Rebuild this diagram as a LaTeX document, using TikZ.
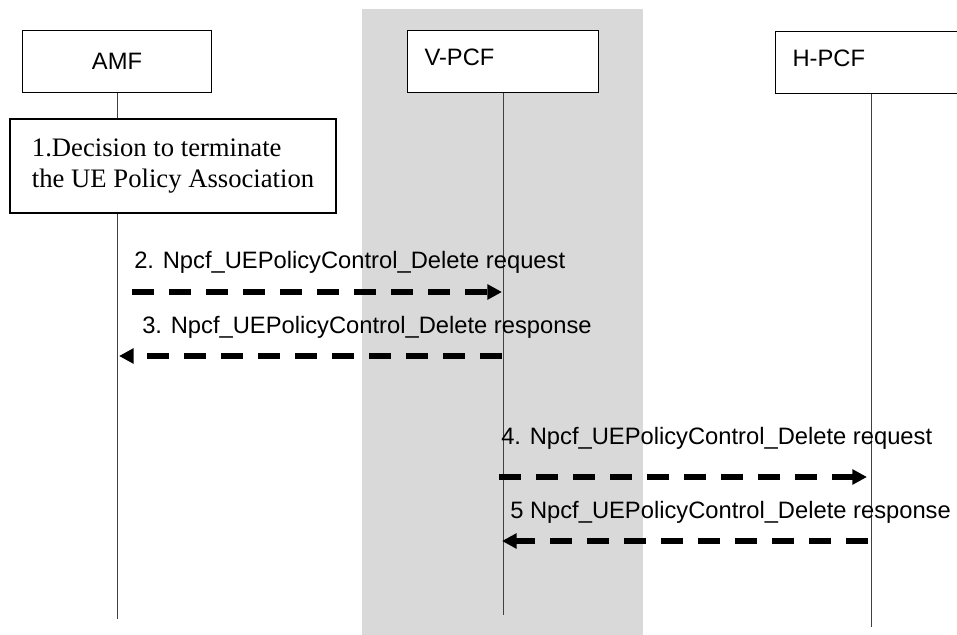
\documentclass[tikz,border=0pt]{standalone}
\usepackage{fontspec}
\setmainfont{Liberation Serif}
\setsansfont{Liberation Sans}
\usetikzlibrary{arrows.meta}
\definecolor{bandgray}{RGB}{217,217,217}

\begin{document}
\begin{tikzpicture}[
  x=0.75pt, y=-0.75pt,
  font=\sffamily\fontsize{17.8}{21}\selectfont,
  entity/.style={draw, line width=0.8pt, fill=white, anchor=north west,
    minimum height=46.5pt, inner ysep=0pt},
  decision/.style={draw, line width=1.6pt, fill=white, anchor=north west,
    minimum width=244.5pt, minimum height=70.5pt, inner xsep=15pt,
    align=left, font=\rmfamily\fontsize{20}{23.25}\selectfont},
  lifeline/.style={draw=black!75, line width=0.75pt},
  msg/.style={line width=4.5pt, dash pattern=on 16.5pt off 11.25pt,
    -{Triangle[length=11pt, width=11pt]}},
  msglab/.style={anchor=west, inner sep=0pt}
]
\useasboundingbox (0,0) rectangle (957,635);
\clip (0,0) rectangle (957,635);
% visited network band
\fill[bandgray] (362,9) rectangle (643,640);

% entities
\node[entity, minimum width=141.75pt] (amf) at (22,30) {AMF};
\node[entity, minimum width=143.25pt, text width=117.75pt, inner xsep=12.75pt,
  align=left, text depth=6pt] (vpcf) at (407,30) {V-PCF};
\node[entity, minimum width=144pt, text width=118.5pt, inner xsep=12.75pt,
  align=left, text depth=6pt] (hpcf) at (775,31) {H-PCF};

% lifelines
\coordinate (amfend) at (117,619);
\coordinate (vpcfend) at (503,615);
\coordinate (hpcfend) at (871,627);
\draw[lifeline] (amf.south) -- (amf.south |- amfend);
\draw[lifeline] (vpcf.south) -- (vpcf.south |- vpcfend);
\draw[lifeline] (hpcf.south) -- (hpcf.south |- hpcfend);

% step 1
\node[decision] (decide) at (9,118) {1.Decision to terminate\\the UE Policy Association};

% messages
\coordinate (m2a) at (132,292);
\coordinate (m2b) at (502,292);
\coordinate (m3a) at (502,356);
\coordinate (m3b) at (119,356);
\coordinate (m4a) at (499,477);
\coordinate (m4b) at (867,477);
\coordinate (m5a) at (868,541);
\coordinate (m5b) at (502,541);
\draw[msg] (m2a) -- (m2b);
\draw[msg] (m3a) -- (m3b);
\draw[msg] (m4a) -- (m4b);
\draw[msg] (m5a) -- (m5b);
\node[msglab] (l2) at (134,262) {2. Npcf\_UEPolicyControl\_Delete request};
\node[msglab] (l3) at (142,327) {3. Npcf\_UEPolicyControl\_Delete response};
\node[msglab] (l4) at (501,438) {4. Npcf\_UEPolicyControl\_Delete request};
\node[msglab] (l5) at (510,512) {5 Npcf\_UEPolicyControl\_Delete response};
\end{tikzpicture}
\end{document}
